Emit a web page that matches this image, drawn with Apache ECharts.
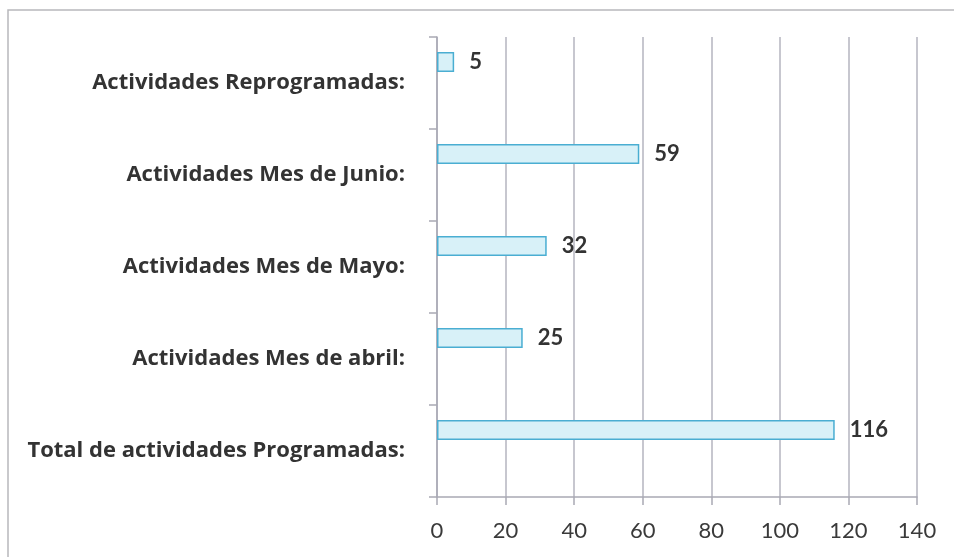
<!DOCTYPE html>
<html>
<head>
<meta charset="utf-8">
<script src="https://cdn.jsdelivr.net/npm/echarts@6/dist/echarts.min.js"></script>
<style>
html,body{margin:0;padding:0;background:#fff;}
#chart{width:954px;height:557px;}
</style>
</head>
<body>
<div id="chart"></div>
<script>
const categories = [
  'Total de actividades Programadas:',
  'Actividades Mes de abril:',
  'Actividades Mes de Mayo:',
  'Actividades Mes de Junio:',
  'Actividades Reprogramadas:'
];
const values = [116, 25, 32, 59, 5];
const spacerValues = [0, 0, 0, 0, 0];
const xTicks = { min: 0, max: 140, interval: 20 };

const chart = echarts.init(document.getElementById('chart'));
chart.setOption({
  animation: false,
  backgroundColor: '#fff',
  textStyle: { fontFamily: 'Lato, "Noto Sans", sans-serif' },
  graphic: [{
    type: 'rect',
    shape: { x: 8, y: 10, width: 960, height: 570 },
    style: { fill: 'none', stroke: '#b8b8bc', lineWidth: 1.5 },
    z: -1
  }],
  grid: { left: 437, right: 37, top: 37, bottom: 60, containLabel: false },
  xAxis: {
    type: 'value',
    min: xTicks.min, max: xTicks.max, interval: xTicks.interval,
    axisLine: { show: true, lineStyle: { color: '#a9a9b4', width: 1.5 } },
    axisTick: { show: true, length: 8, lineStyle: { color: '#a9a9b4', width: 1.5 } },
    splitLine: { show: true, lineStyle: { color: '#b4b4bf', width: 1.5 } },
    axisLabel: { fontSize: 22, color: '#3a3a3a', margin: 23, fontFamily: 'Lato' }
  },
  yAxis: {
    type: 'category',
    data: categories,
    axisLine: { show: true, lineStyle: { color: '#a9a9b4', width: 1.5 } },
    axisTick: { show: true, length: 8, lineStyle: { color: '#a9a9b4', width: 1.5 } },
    splitLine: { show: false },
    axisLabel: { fontSize: 22, fontWeight: 'bold', color: '#333', margin: 32, fontFamily: '"Open Sans"' }
  },
  series: [
    {
      type: 'bar',
      data: values,
      barWidth: 20,
      barGap: '110%',
      itemStyle: { color: '#d8f1f8', borderColor: '#4aaed2', borderWidth: 1.5 },
      label: { show: true, position: 'right', distance: 15, fontSize: 22, fontWeight: 'bold', color: '#333', fontFamily: 'Lato' }
    },
    {
      type: 'bar',
      data: spacerValues,
      barWidth: 20,
      silent: true,
      itemStyle: { color: 'rgba(0,0,0,0)' },
      label: { show: false }
    }
  ]
});
</script>
</body>
</html>
